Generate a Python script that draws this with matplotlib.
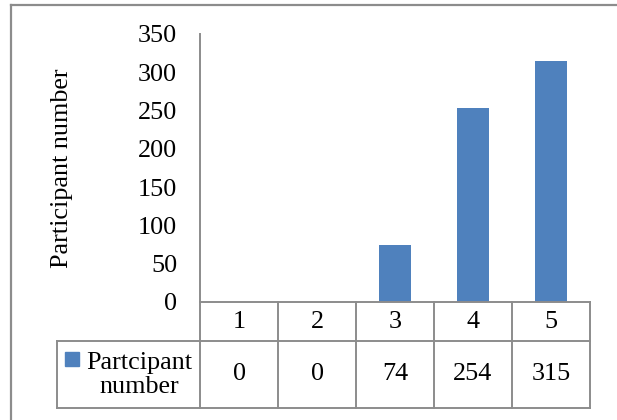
import matplotlib
matplotlib.use("Agg")
import matplotlib.pyplot as plt
from matplotlib.patches import Rectangle

categories = [1, 2, 3, 4, 5]
values = [0, 0, 74, 254, 315]
series_name = "Partcipant\nnumber"
y_label = "Participant number"
y_ticks = [0, 50, 100, 150, 200, 250, 300, 350]

BLUE = "#4f81bd"
GRID = "#8c8c8c"
FS = 18.8

plt.rcParams["font.family"] = ["Liberation Serif", "DejaVu Serif"]

W, H = 617, 420
fig = plt.figure(figsize=(W / 100, H / 100), dpi=100)

# plot area in pixels: x 200..590, y 34..302
ax = fig.add_axes([200 / W, 1 - 302 / H, 390 / W, 268 / H])
ax.bar(categories, values, width=0.4, color=BLUE, zorder=2)
ax.set_xlim(0.5, 5.5)
ax.set_ylim(0, 350)
ax.set_yticks(y_ticks)
ax.tick_params(axis="y", length=0, pad=16.5, labelsize=FS)
ax.set_xticks([])
for s in ("top", "right", "bottom"):
    ax.spines[s].set_visible(False)
ax.spines["left"].set_color(GRID)
ax.spines["left"].set_linewidth(1.4)

# data table below the plot (y in axes fraction)
row1 = -39 / 268
row2 = -106 / 268
tr = ax.get_xaxis_transform()
lkw = dict(color=GRID, lw=1.4, transform=tr, clip_on=False)
legend_left = 0.5 - 143 / 78

ax.plot([0.5, 5.5], [0, 0], **lkw)
ax.plot([legend_left, 5.5], [row1, row1], **lkw)
ax.plot([legend_left, 5.5], [row2, row2], **lkw)
ax.plot([legend_left, legend_left], [row1, row2], **lkw)
for i in range(len(categories) + 1):
    ax.plot([0.5 + i, 0.5 + i], [0, row2], **lkw)

for c, v in zip(categories, values):
    ax.text(c, row1 / 2, str(c), transform=tr, ha="center", va="center",
            fontsize=FS, clip_on=False)
    ax.text(c, (row1 + row2) / 2, str(v), transform=tr, ha="center",
            va="center", fontsize=FS, clip_on=False)

# legend key inside the table
fig.text(139 / W, 1 - 375 / H, series_name, ha="center", va="center",
         fontsize=FS, linespacing=1.1)
fig.patches.append(Rectangle((65 / W, 1 - 366 / H), 14 / W, 14 / H,
                             transform=fig.transFigure, color=BLUE))

fig.text(62 / W, 1 - 168 / H, y_label, rotation=90, ha="center",
         va="center", fontsize=FS)

# chart border (left and top visible)
fig.add_artist(plt.Line2D([11 / W, 11 / W], [0, 1 - 5 / H], color=GRID,
                          lw=1.6, transform=fig.transFigure))
fig.add_artist(plt.Line2D([11 / W, 1], [1 - 5 / H, 1 - 5 / H], color=GRID,
                          lw=1.6, transform=fig.transFigure))

fig.savefig("out.png", dpi=100)
